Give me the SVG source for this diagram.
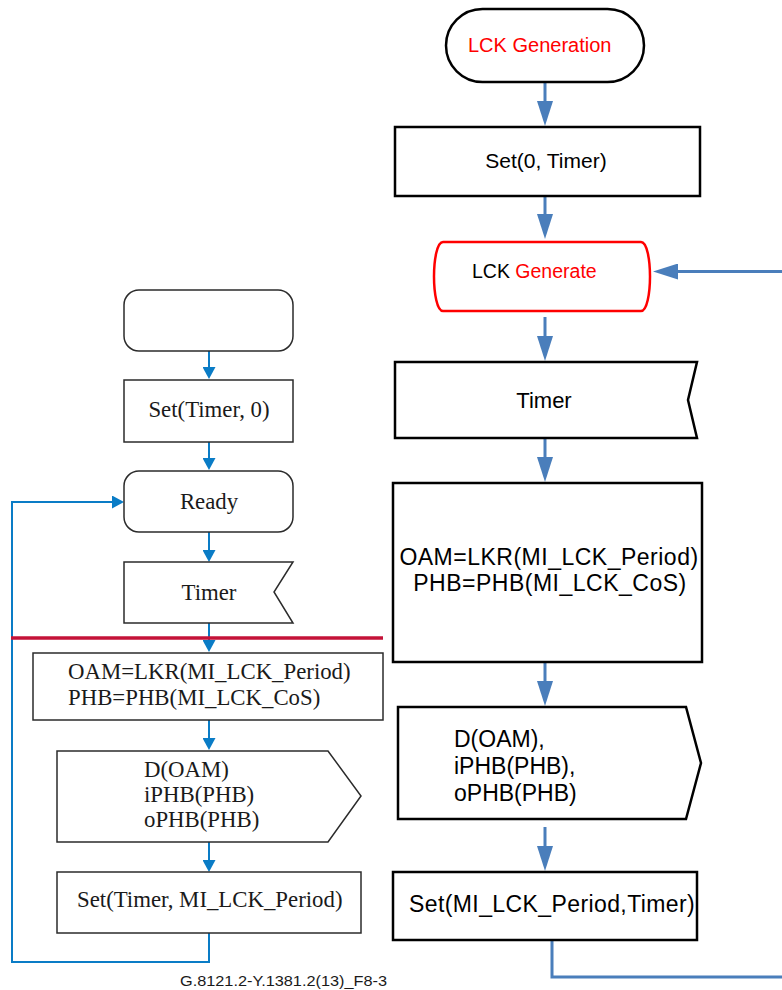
<svg xmlns="http://www.w3.org/2000/svg" width="782" height="990" viewBox="0 0 782 990">
<style>
.ln{fill:none;stroke:#2b2b2b;stroke-width:1.5}
.rn{fill:none;stroke:#000;stroke-width:2.5}
.lt{font-family:"Liberation Serif","Times New Roman",serif;font-size:22.8px;fill:#1a1a1a}
.rt{font-family:"Liberation Sans",Arial,sans-serif;fill:#000}
.lc{fill:none;stroke:#0a7cc6;stroke-width:2}
.rc{fill:none;stroke:#4a7ebb;stroke-width:3}
.red{fill:#ff0000}
</style>
<defs>
<marker id="la" markerUnits="userSpaceOnUse" markerWidth="12" markerHeight="13" refX="0" refY="6.5" orient="auto">
<path d="M0,0 L12,6.5 L0,13 Z" fill="#0a7cc6"/>
</marker>
<marker id="ra" markerUnits="userSpaceOnUse" markerWidth="25" markerHeight="16" refX="0" refY="8" orient="auto">
<path d="M0,0 L25,8 L0,16 Z" fill="#4a7ebb"/>
</marker>
</defs>

<g id="connectors">
<path class="lc" d="M209,351 V367" marker-end="url(#la)"/>
<path class="lc" d="M209,442 V458" marker-end="url(#la)"/>
<path class="lc" d="M209,532 V550" marker-end="url(#la)"/>
<path class="lc" d="M209,623 V640" marker-end="url(#la)"/>
<path class="lc" d="M209,720 V738" marker-end="url(#la)"/>
<path class="lc" d="M209,842 V860" marker-end="url(#la)"/>
<path class="lc" d="M209,933 V962 H12 V502 H112" marker-end="url(#la)"/>
<path class="rc" d="M545,82 V101" marker-end="url(#ra)"/>
<path class="rc" d="M545,196 V214" marker-end="url(#ra)"/>
<path class="rc" d="M545,317 V336" marker-end="url(#ra)"/>
<path class="rc" d="M545,439 V457" marker-end="url(#ra)"/>
<path class="rc" d="M545,662 V681" marker-end="url(#ra)"/>
<path class="rc" d="M545,827 V846" marker-end="url(#ra)"/>
<path class="rc" d="M782,271.5 H678" marker-end="url(#ra)"/>
<path class="rc" d="M552,940 V977 H782"/>
</g>

<line id="divider" x1="11" y1="638" x2="383" y2="638" stroke="#c41238" stroke-width="3.5"/>

<g id="l-start"><rect class="ln" x="124" y="290" width="169" height="61" rx="15"/></g>
<g id="l-set0"><rect class="ln" x="124" y="380" width="169" height="62"/>
<text class="lt" x="209" y="417" text-anchor="middle">Set(Timer, 0)</text></g>
<g id="l-ready"><rect class="ln" x="124" y="471" width="169" height="61" rx="15"/>
<text class="lt" x="209" y="509" text-anchor="middle">Ready</text></g>
<g id="l-timer"><polygon class="ln" points="124,562 293,562 274,592 293,623 124,623"/>
<text class="lt" x="209" y="600" text-anchor="middle">Timer</text></g>
<g id="l-oam"><rect class="ln" x="33" y="653" width="350" height="67"/>
<text class="lt" x="68" y="679">OAM=LKR(MI_LCK_Period)</text>
<text class="lt" x="68" y="705">PHB=PHB(MI_LCK_CoS)</text></g>
<g id="l-out"><polygon class="ln" points="57,751 328,751 361,796 328,842 57,842"/>
<text class="lt" x="144" y="777">D(OAM)</text>
<text class="lt" x="144" y="802">iPHB(PHB)</text>
<text class="lt" x="144" y="827">oPHB(PHB)</text></g>
<g id="l-setp"><rect class="ln" x="57" y="872" width="304" height="61"/>
<text class="lt" x="77" y="907">Set(Timer, MI_LCK_Period)</text></g>

<g id="r-start"><rect class="rn" x="446" y="9" width="198" height="73" rx="36.5"/>
<text class="rt red" x="468" y="52" font-size="20">LCK Generation</text></g>
<g id="r-set0"><rect class="rn" x="395" y="127" width="305" height="69"/>
<text class="rt" x="546" y="168" font-size="21" text-anchor="middle">Set(0, Timer)</text></g>
<g id="r-gen"><path d="M443,242 H641 C647,242 650,260 650,276.5 C650,293 647,311 641,311 H443 C437,311 434,293 434,276.5 C434,260 437,242 443,242 Z" fill="none" stroke="#ff0000" stroke-width="2.5"/>
<text class="rt" x="472" y="278" font-size="19.5">LCK <tspan fill="#ff0000">Generate</tspan></text></g>
<g id="r-timer"><polygon class="rn" points="395,362 697,362 688,400 697,438 395,438"/>
<text class="rt" x="544" y="408" font-size="22" text-anchor="middle">Timer</text></g>
<g id="r-oam"><rect class="rn" x="393" y="483" width="309" height="179"/>
<text class="rt" x="549" y="565" font-size="23" letter-spacing="0.5" text-anchor="middle">OAM=LKR(MI_LCK_Period)</text>
<text class="rt" x="550" y="591" font-size="23" letter-spacing="0.5" text-anchor="middle">PHB=PHB(MI_LCK_CoS)</text></g>
<g id="r-out"><polygon class="rn" points="398,707 686,707 701,763 686,819 398,819"/>
<text class="rt" x="454" y="747" font-size="23">D(OAM),</text>
<text class="rt" x="454" y="774" font-size="23">iPHB(PHB),</text>
<text class="rt" x="454" y="801" font-size="23">oPHB(PHB)</text></g>
<g id="r-setp"><rect class="rn" x="393" y="872" width="304" height="68"/>
<text class="rt" x="409" y="912" font-size="23" letter-spacing="0.4">Set(MI_LCK_Period,Timer)</text></g>

<text id="caption" x="180" y="986" font-family="'Liberation Sans',Arial,sans-serif" font-size="14" fill="#1a1a1a" textLength="207" lengthAdjust="spacingAndGlyphs">G.8121.2-Y.1381.2(13)_F8-3</text>
</svg>
